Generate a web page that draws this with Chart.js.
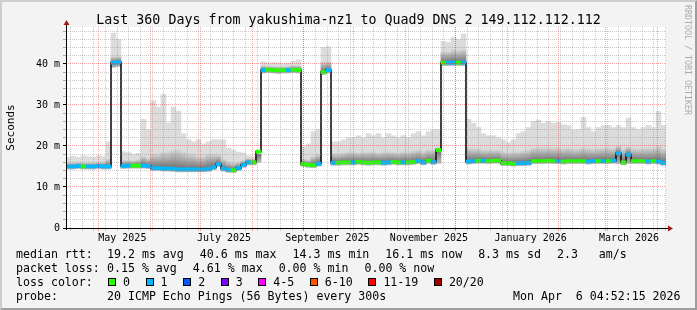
<!DOCTYPE html>
<html>
<head>
<meta charset="utf-8">
<title>smokeping 360 days</title>
<script src="https://cdn.jsdelivr.net/npm/chart.js@4.4.1/dist/chart.umd.min.js"></script>
<style>
  html, body { margin: 0; padding: 0; }
  body { position: relative; width: 697px; height: 310px; overflow: hidden;
         background: #f3f3f3; color: #000; font-family: "DejaVu Sans Mono", monospace; }
  canvas { position: absolute; left: 0; top: 0; }
  #frame { position: absolute; left: 0; top: 0; width: 697px; height: 310px; box-sizing: border-box;
           border: 2px solid; border-color: #cecece #9e9e9e #9e9e9e #cecece; pointer-events: none; }
  #title { position: absolute; left: 0; top: 12px; width: 697px; text-align: center;
           font-size: 13.3px; line-height: 16px; white-space: pre; }
  #brand { position: absolute; left: 683px; top: 5px; writing-mode: vertical-rl;
           font-size: 8.3px; line-height: 10px; color: #ababab; white-space: pre; }
  .row { position: absolute; left: 16px; display: flex; align-items: center;
         font-size: 11.6px; line-height: 14px; height: 14px; white-space: pre; }
  .row .lbl { width: 91px; }
  .row .seg { margin-right: 16px; }
  .row .loss { display: flex; align-items: center; margin-right: 15.6px; }
  .row .box { width: 6px; height: 6px; border: 1px solid #000; margin-right: 7px; }
</style>
</head>
<body>
<canvas id="chart" width="697" height="310"></canvas>
<div id="title"></div>
<div id="brand">RRDTOOL / TOBI OETIKER</div>
<div id="legend"></div>
<div id="frame"></div>
<script>
/* ---- text ---- */
const titleText  = "Last 360 Days from yakushima-nz1 to Quad9 DNS 2 149.112.112.112";
const rttStats   = ["19.2 ms avg", "40.6 ms max", "14.3 ms min", "16.1 ms now", "8.3 ms sd", "2.3   am/s"];
const lossStats  = ["0.15 % avg", "4.61 % max", "0.00 % min", "0.00 % now"];
const lossLabels = ["0", "1", "2", "3", "4-5", "6-10", "11-19", "20/20"];
const lossColors = ["#26ff00", "#00b8ff", "#0059ff", "#7e00ff", "#ff00ff", "#ff5500", "#ff0000", "#a10000"];
const probeText  = "20 ICMP Echo Pings (56 Bytes) every 300s";
const stampText  = "Mon Apr  6 04:52:15 2026";

/* ---- time axis: 360 days ending at the stamp ---- */
const endMs    = Date.UTC(2026, 3, 6, 4, 52, 15);
const spanDays = 360;
const startMs  = endMs - spanDays * 864e5;
const dayOf    = (y, m, d) => (Date.UTC(y, m, d) - startMs) / 864e5;

const monthStarts = [[2025,4],[2025,5],[2025,6],[2025,7],[2025,8],[2025,9],[2025,10],
                     [2025,11],[2026,0],[2026,1],[2026,2],[2026,3]];
const monthLabels = ["May 2025", "July 2025", "September 2025", "November 2025", "January 2026", "March 2026"];
const labelMonths = [[2025,4],[2025,6],[2025,8],[2025,10],[2026,0],[2026,2]];
const firstMonday = [2025, 3, 14];

const yTicks = [0,2,4,6,8,10,12,14,16,18,20,22,24,26,28,30,32,34,36,38,40,42,44,46,48];

/* ---- data: 3-day bins, values in milliseconds ---- */
const binDays = 3;
const median = [
  15.0,15.0,15.1,15.0,15.0,15.0,15.1,15.0,15.0,40.3,
  40.4,15.1,15.2,15.2,15.2,15.2,15.1,14.6,14.6,14.5,
  14.5,14.4,14.3,14.3,14.3,14.3,14.3,14.3,14.4,14.8,
  15.6,14.5,14.2,14.1,14.6,15.4,16.0,16.0,18.6,38.5,
  38.6,38.5,38.4,38.5,38.5,38.6,38.5,15.6,15.4,15.3,
  15.7,38.0,38.5,15.9,15.9,16.0,16.0,16.0,16.1,16.0,
  15.9,16.0,16.0,15.9,16.0,16.1,16.0,16.0,16.0,16.1,
  16.3,16.0,16.4,16.1,19.0,40.3,40.3,40.3,40.3,40.3,
  16.2,16.3,16.4,16.4,16.3,16.4,16.4,15.8,15.8,15.7,
  15.8,15.8,15.9,16.3,16.3,16.3,16.4,16.3,16.3,16.2,
  16.3,16.3,16.3,16.3,16.2,16.3,16.3,16.3,16.3,16.4,
  18.2,16.0,17.9,16.3,16.3,16.3,16.2,16.3,16.2,15.9
];
// packets lost per bin (0 or 1 of 20)
const loss = [
  1,1,1,0,1,1,1,1,1,1,
  1,1,1,0,0,1,1,1,1,1,
  1,1,1,1,1,1,1,1,1,1,
  1,1,1,0,1,1,1,0,0,1,
  0,0,0,0,1,0,0,0,0,0,
  1,0,1,1,0,0,0,1,0,0,
  0,0,0,1,1,0,0,1,0,0,
  1,1,0,1,0,0,1,1,0,1,
  1,1,0,1,0,0,0,0,0,0,
  1,1,1,0,0,0,0,0,1,0,
  0,0,0,0,1,1,0,1,0,1,
  1,0,1,0,0,0,1,0,1,1
];
const smokeMax = [
  17.3,17.5,17.2,17.6,17.4,17.3,17.6,17.4,21.0,47.5,
  46.0,18.6,18.4,18.0,18.2,26.5,24.0,31.0,29.5,32.6,
  25.6,29.5,28.5,23.0,21.5,21.0,21.5,20.5,21.0,21.5,
  21.5,21.5,19.5,19.0,18.5,18.3,17.6,17.4,19.0,40.5,
  40.2,40.3,40.2,40.0,40.2,40.6,41.0,19.8,20.5,23.5,
  24.0,44.0,44.2,21.0,21.0,21.5,22.0,22.0,22.5,22.0,
  23.0,22.5,23.0,22.0,23.0,22.5,22.0,22.5,22.0,23.0,
  23.5,22.5,23.5,24.0,24.0,45.5,45.2,46.5,46.0,47.3,
  26.5,25.5,24.5,23.0,22.5,22.5,22.0,21.5,20.8,21.5,
  23.0,23.5,24.5,26.0,26.3,25.5,26.0,25.5,25.8,25.2,
  25.0,23.9,24.0,27.0,24.5,23.5,24.5,25.0,25.0,24.5,
  25.0,24.5,26.8,24.5,24.0,24.5,25.0,24.5,28.4,25.0
];
const smokeMid = [
  15.9,15.9,16.0,15.9,15.9,15.9,16.0,16.0,16.8,41.8,
  41.8,16.5,16.5,16.4,16.6,17.5,17.0,18.0,18.0,18.5,
  18.5,19.0,19.0,18.5,18.0,18.0,17.5,17.5,18.0,18.0,
  17.8,16.8,16.2,15.8,16.0,16.5,17.0,16.8,18.0,39.6,
  39.4,39.4,39.3,39.3,39.4,39.6,39.6,16.8,16.6,17.5,
  18.0,40.5,40.5,18.2,18.0,18.3,18.5,18.5,18.3,18.5,
  18.5,18.6,18.3,18.5,18.6,18.5,18.3,18.6,18.5,18.8,
  19.0,18.6,19.0,19.0,19.5,43.0,43.0,43.5,43.3,43.5,
  19.5,19.3,19.3,19.0,19.0,19.0,19.0,18.5,18.3,18.5,
  18.6,18.8,19.0,19.5,19.6,19.5,19.6,19.5,19.6,19.4,
  19.5,19.2,19.3,19.6,19.4,19.2,19.4,19.5,19.5,19.4,
  20.0,19.3,19.8,19.4,19.3,19.4,19.5,19.4,20.0,19.3
];
const smokeLow = [
  14.4,14.4,14.5,14.4,14.4,14.4,14.5,14.4,14.4,39.2,
  39.4,14.5,14.6,14.6,14.6,14.6,14.5,14.0,14.0,13.9,
  13.9,13.8,13.7,13.7,13.7,13.7,13.7,13.7,13.8,14.2,
  15.0,13.9,13.6,13.5,14.0,14.8,15.4,15.4,16.0,37.8,
  37.9,37.8,37.7,37.8,37.8,37.9,37.8,15.0,14.8,14.7,
  15.1,37.4,37.8,15.3,15.3,15.4,15.4,15.4,15.5,15.4,
  15.3,15.4,15.4,15.3,15.4,15.5,15.4,15.4,15.4,15.5,
  15.7,15.4,15.8,15.5,15.8,39.6,39.6,39.6,39.6,39.6,
  15.6,15.7,15.8,15.8,15.7,15.8,15.8,15.2,15.2,15.1,
  15.2,15.2,15.3,15.7,15.7,15.7,15.8,15.7,15.7,15.6,
  15.7,15.7,15.7,15.7,15.6,15.7,15.7,15.7,15.7,15.8,
  15.7,15.4,15.7,15.7,15.7,15.7,15.6,15.7,15.6,15.3
];

/* ---- text blocks ---- */
document.getElementById("title").textContent = titleText;
const legend = document.getElementById("legend");
function addRow(top, label) {
  const row = document.createElement("div");
  row.className = "row";
  row.style.top = top + "px";
  const l = document.createElement("span");
  l.className = "lbl"; l.textContent = label;
  row.appendChild(l);
  legend.appendChild(row);
  return row;
}
function addSeg(row, text) {
  const s = document.createElement("span");
  s.className = "seg"; s.textContent = text;
  row.appendChild(s);
  return s;
}
const r1 = addRow(247, "median rtt:");
rttStats.forEach(t => addSeg(r1, t));
const r2 = addRow(261, "packet loss:");
lossStats.forEach(t => addSeg(r2, t));
const r3 = addRow(275, "loss color:");
r3.firstChild.style.width = "92px";
lossLabels.forEach((t, i) => {
  const item = document.createElement("span");
  item.className = "loss";
  item.innerHTML = `<span class="box" style="background:${lossColors[i]}"></span><span>${t}</span>`;
  r3.appendChild(item);
});
const r4 = addRow(289, "probe:");
addSeg(r4, probeText);
const stamp = document.createElement("div");
stamp.className = "row";
stamp.style.top = "289px"; stamp.style.left = "513px";
stamp.textContent = stampText;
legend.appendChild(stamp);

/* ---- x ticks: weekly lines, month lines, label positions ---- */
const xTicks = [];
for (let d = dayOf(...firstMonday); d < spanDays; d += 7) xTicks.push({ value: d, kind: "week", label: "" });
monthStarts.forEach(([y, m]) => xTicks.push({ value: dayOf(y, m, 1), kind: "month", label: "" }));
labelMonths.forEach(([y, m], i) => xTicks.push({ value: dayOf(y, m, 1) + 14, kind: "label", label: monthLabels[i] }));
xTicks.sort((a, b) => a.value - b.value);

const GRID  = "rgba(140,140,140,0.45)";
const MGRID = "rgba(255,0,0,0.38)";
const font  = { family: "DejaVu Sans Mono", size: 10 };
const plotWidth = 600;   // px, set by layout padding below

/* ---- datasets built from the arrays ---- */
const binX = i => i * binDays + binDays / 2;
const maxBars  = smokeMax.map((v, i) => ({ x: binX(i), y: [smokeLow[i], v] }));
const midBars  = smokeMid.map((v, i) => ({ x: binX(i), y: [smokeLow[i], v] }));
const lossBars = median.map((v, i) => ({ x: binX(i), y: [v - 0.38, v + 0.38] }));
const medLine  = median.map((v, i) => ({ x: i * binDays, y: v }));
medLine.push({ x: spanDays, y: median[median.length - 1] });

function smokeShade(c) {
  const chart = c.chart;
  if (c.type !== "data" || !chart.chartArea) return "#b0b0b0";
  const ys = chart.scales.y, i = c.dataIndex;
  const top = ys.getPixelForValue(smokeMid[i]);
  const bot = ys.getPixelForValue(smokeLow[i]);
  const mid = ys.getPixelForValue(median[i]);
  const f = Math.min(Math.max((mid - top) / ((bot - top) || 1), 0), 1);
  const g = chart.ctx.createLinearGradient(0, top, 0, bot);
  g.addColorStop(0, "#d4d4d4");
  g.addColorStop(f, "#6e6e6e");
  g.addColorStop(1, "#bdbdbd");
  return g;
}

const rrdCanvas = {
  id: "rrdCanvas",
  beforeDraw(chart) {
    const { ctx, chartArea: a } = chart;
    ctx.save();
    ctx.fillStyle = "#fff";
    ctx.fillRect(a.left, a.top, a.right - a.left, a.bottom - a.top);
    ctx.restore();
  },
  afterDraw(chart) {
    const { ctx, chartArea: a } = chart;
    ctx.save();
    ctx.strokeStyle = "#000";
    ctx.lineWidth = 1;
    ctx.beginPath();
    ctx.moveTo(a.left - 3, a.bottom + 0.5); ctx.lineTo(a.right + 2, a.bottom + 0.5);
    ctx.moveTo(a.left + 0.5, a.bottom + 2); ctx.lineTo(a.left + 0.5, a.top - 2);
    ctx.stroke();
    ctx.fillStyle = "#a01818";
    ctx.beginPath();
    ctx.moveTo(a.right + 2, a.bottom - 2.5); ctx.lineTo(a.right + 7, a.bottom + 0.5); ctx.lineTo(a.right + 2, a.bottom + 3.5);
    ctx.closePath(); ctx.fill();
    ctx.beginPath();
    ctx.moveTo(a.left - 2.5, a.top - 2); ctx.lineTo(a.left + 0.5, a.top - 7); ctx.lineTo(a.left + 3.5, a.top - 2);
    ctx.closePath(); ctx.fill();
    ctx.restore();
  }
};

const barBase = { type: "bar", grouped: false, borderWidth: 0,
                  barThickness: plotWidth / spanDays * binDays };

new Chart(document.getElementById("chart"), {
  type: "bar",
  data: {
    datasets: [
      { ...barBase, data: lossBars, order: 1,
        backgroundColor: c => c.type === "data" ? lossColors[loss[c.dataIndex]] : lossColors[1] },
      { type: "line", data: medLine, order: 2, stepped: true, borderColor: "#111", borderWidth: 1.6,
        pointRadius: 0, fill: false },
      { ...barBase, data: midBars, order: 3, backgroundColor: smokeShade },
      { ...barBase, data: maxBars, order: 4, backgroundColor: "#dcdcdc" }
    ]
  },
  options: {
    responsive: false,
    animation: false,
    devicePixelRatio: 1,
    layout: { padding: { top: 27, right: 31, bottom: 0, left: 0 } },
    plugins: { legend: { display: false }, title: { display: false }, tooltip: { enabled: false } },
    scales: {
      x: {
        type: "linear", min: 0, max: spanDays, bounds: "data", offset: false,
        afterFit: s => { s.height = 82; },
        afterBuildTicks: s => { s.ticks = xTicks.map(t => ({ value: t.value })); },
        ticks: { autoSkip: false, maxRotation: 0, padding: 1.5, color: "#000", font,
                 callback: (v, i) => xTicks[i] ? xTicks[i].label : "" },
        grid: { offset: false, z: 1, tickLength: 3,
                color: c => { const t = xTicks[c.index]; return !t || t.kind === "label" ? "transparent" : t.kind === "month" ? MGRID : GRID; },
                tickColor: c => { const t = xTicks[c.index]; return !t || t.kind === "label" ? "transparent" : t.kind === "month" ? MGRID : GRID; } },
        border: { display: false, dash: [1, 1] }
      },
      y: {
        type: "linear", min: 0, max: 49, bounds: "data",
        afterFit: s => { s.width = 66; },
        afterBuildTicks: s => { s.ticks = yTicks.map(v => ({ value: v })); },
        ticks: { autoSkip: false, padding: 3, color: "#000", font,
                 callback: v => v % 10 === 0 ? (v === 0 ? "0" : v + " m") : "" },
        grid: { z: 1, tickLength: 3,
                color: c => c.tick.value === 0 ? "transparent" : c.tick.value % 10 === 0 ? MGRID : GRID,
                tickColor: c => c.tick.value % 10 === 0 ? "#000" : "#aaa" },
        border: { display: false, dash: [1, 1] },
        title: { display: true, text: "Seconds", color: "#000",
                 font: { family: "DejaVu Sans Mono", size: 11 }, padding: { top: 4.4, bottom: 0 } }
      }
    }
  },
  plugins: [rrdCanvas]
});
</script>
</body>
</html>
